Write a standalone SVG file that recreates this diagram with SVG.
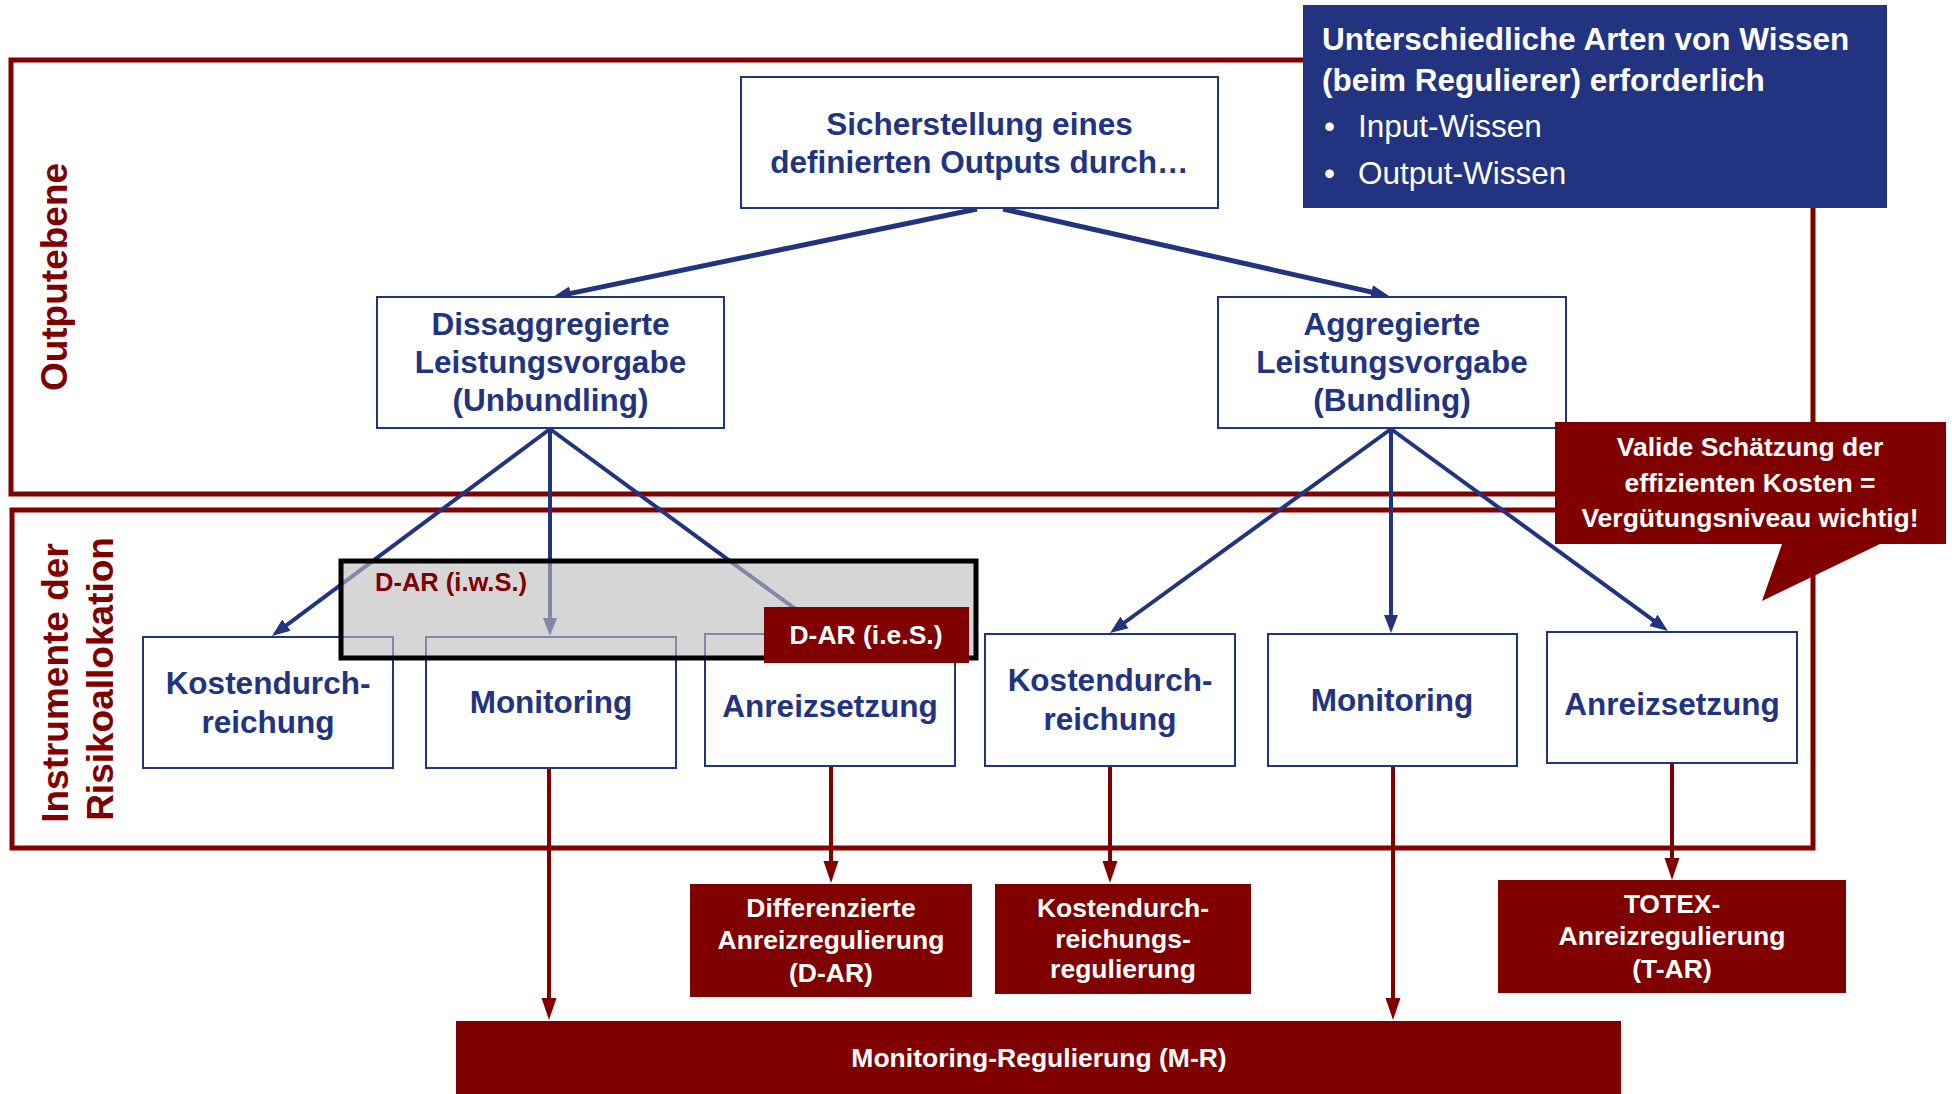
<svg xmlns="http://www.w3.org/2000/svg" width="1952" height="1094" viewBox="0 0 1952 1094">
<style>
  .frame { fill: none; stroke: #800000; stroke-width: 5; }
  .node { fill: #ffffff; stroke: #22347f; stroke-width: 2; }
  .red { fill: #800000; }
  .bt { font-family: "Liberation Sans", Arial, sans-serif; font-weight: bold; font-size: 31.5px; fill: #22347f; text-anchor: middle; }
  .wt { font-family: "Liberation Sans", Arial, sans-serif; font-weight: bold; font-size: 26.5px; fill: #ffffff; text-anchor: middle; }
  .lbl { font-family: "Liberation Sans", Arial, sans-serif; font-weight: bold; font-size: 37px; fill: #800000; text-anchor: middle; }
  .info { font-family: "Liberation Sans", Arial, sans-serif; font-size: 31.5px; fill: #ffffff; }
  .cb { stroke: #22347f; fill: none; }
  .cr { stroke: #800000; stroke-width: 4; fill: none; marker-end: url(#ar); }
</style>
<defs>
  <marker id="ab" markerUnits="userSpaceOnUse" markerWidth="20" markerHeight="18" refX="6" refY="8" orient="auto">
    <path d="M0,1 L18,8 L0,15 z" fill="#22347f"/>
  </marker>
  <marker id="ar" markerUnits="userSpaceOnUse" markerWidth="24" markerHeight="16" refX="8" refY="7.5" orient="auto">
    <path d="M0,0 L22,7.5 L0,15 z" fill="#800000"/>
  </marker>
</defs>

<g id="frames">
  <rect class="frame" x="11" y="60" width="1802" height="434"/>
  <rect class="frame" x="12" y="510" width="1801" height="338"/>
  <text class="lbl" transform="translate(67,277) rotate(-90)">Outputebene</text>
  <text class="lbl" transform="translate(68,683) rotate(-90)">Instrumente der</text>
  <text class="lbl" transform="translate(113,679) rotate(-90)">Risikoallokation</text>
</g>

<g id="connectors">
  <line class="cb" stroke-width="5" x1="977" y1="209" x2="564.7" y2="294.6" marker-end="url(#ab)"/>
  <line class="cb" stroke-width="5" x1="1003" y1="209" x2="1377.3" y2="293.4" marker-end="url(#ab)"/>
  <line class="cb" stroke-width="4" x1="550" y1="429" x2="281.6" y2="628.8" marker-end="url(#ab)"/>
  <line class="cb" stroke-width="4" x1="550" y1="429" x2="550" y2="624" marker-end="url(#ab)"/>
  <line class="cb" stroke-width="4" x1="550" y1="429" x2="820" y2="627" marker-end="url(#ab)"/>
  <line class="cb" stroke-width="4" x1="1391" y1="429" x2="1119.7" y2="626" marker-end="url(#ab)"/>
  <line class="cb" stroke-width="4" x1="1391" y1="429" x2="1391" y2="621" marker-end="url(#ab)"/>
  <line class="cb" stroke-width="4" x1="1391" y1="429" x2="1658.3" y2="623.9" marker-end="url(#ab)"/>
  <line class="cr" x1="549" y1="768" x2="549" y2="1006"/>
  <line class="cr" x1="831" y1="766" x2="831" y2="869"/>
  <line class="cr" x1="1110" y1="766" x2="1110" y2="869"/>
  <line class="cr" x1="1393" y1="766" x2="1393" y2="1006"/>
  <line class="cr" x1="1672" y1="763" x2="1672" y2="866"/>
</g>

<g id="n-top">
  <rect class="node" x="741" y="77" width="477" height="131"/>
  <text class="bt" x="979.5" y="135">Sicherstellung eines</text>
  <text class="bt" x="979.5" y="173">definierten Outputs durch…</text>
</g>

<g id="n-unbundling">
  <rect class="node" x="377" y="297" width="347" height="131"/>
  <text class="bt" x="550.5" y="335">Dissaggregierte</text>
  <text class="bt" x="550.5" y="373">Leistungsvorgabe</text>
  <text class="bt" x="550.5" y="411">(Unbundling)</text>
</g>

<g id="n-bundling">
  <rect class="node" x="1218" y="297" width="348" height="131"/>
  <text class="bt" x="1392" y="335">Aggregierte</text>
  <text class="bt" x="1392" y="373">Leistungsvorgabe</text>
  <text class="bt" x="1392" y="411">(Bundling)</text>
</g>

<g id="n-kosten-l">
  <rect class="node" x="143" y="637" width="250" height="131"/>
  <text class="bt" x="268" y="694">Kostendurch-</text>
  <text class="bt" x="268" y="733">reichung</text>
</g>
<g id="n-monitoring-l">
  <rect class="node" x="426" y="637" width="250" height="131"/>
  <text class="bt" x="551" y="713">Monitoring</text>
</g>
<g id="n-anreiz-l">
  <rect class="node" x="705" y="634" width="250" height="132"/>
  <text class="bt" x="830" y="717">Anreizsetzung</text>
</g>

<g id="n-kosten-r">
  <rect class="node" x="985" y="634" width="250" height="132"/>
  <text class="bt" x="1110" y="691">Kostendurch-</text>
  <text class="bt" x="1110" y="730">reichung</text>
</g>
<g id="n-monitoring-r">
  <rect class="node" x="1268" y="634" width="249" height="132"/>
  <text class="bt" x="1392" y="711">Monitoring</text>
</g>
<g id="n-anreiz-r">
  <rect class="node" x="1547" y="632" width="250" height="131"/>
  <text class="bt" x="1672" y="715">Anreizsetzung</text>
</g>

<g id="n-dar-iws">
  <rect x="341" y="561" width="635" height="97" fill="#bdbdbd" fill-opacity="0.62" stroke="#000000" stroke-width="5"/>
  <text x="375" y="591" font-family="Liberation Sans, Arial, sans-serif" font-weight="bold" font-size="25.5" fill="#800000">D-AR (i.w.S.)</text>
</g>
<g id="n-dar-ies">
  <rect class="red" x="764" y="607" width="205" height="56"/>
  <text class="wt" x="866" y="644" font-size="25.5">D-AR (i.e.S.)</text>
</g>

<g id="n-wissen">
  <rect x="1303" y="5" width="584" height="203" fill="#22347f"/>
  <text class="info" x="1322" y="50" font-weight="bold">Unterschiedliche Arten von Wissen</text>
  <text class="info" x="1322" y="91" font-weight="bold">(beim Regulierer) erforderlich</text>
  <text class="info" x="1324" y="137">•</text>
  <text class="info" x="1358" y="137">Input-Wissen</text>
  <text class="info" x="1324" y="184">•</text>
  <text class="info" x="1358" y="184">Output-Wissen</text>
</g>

<g id="n-valide">
  <path class="red" d="M1555,422 L1946,422 L1946,544 L1880,544 L1762,601 L1782,544 L1555,544 z"/>
  <text class="wt" x="1750" y="456">Valide Schätzung der</text>
  <text class="wt" x="1750" y="492">effizienten Kosten =</text>
  <text class="wt" x="1750" y="527">Vergütungsniveau wichtig!</text>
</g>

<g id="n-dar">
  <rect class="red" x="690" y="884" width="282" height="113"/>
  <text class="wt" x="831" y="917">Differenzierte</text>
  <text class="wt" x="831" y="949">Anreizregulierung</text>
  <text class="wt" x="831" y="982">(D-AR)</text>
</g>
<g id="n-kdr">
  <rect class="red" x="995" y="884" width="256" height="110"/>
  <text class="wt" x="1123" y="917">Kostendurch-</text>
  <text class="wt" x="1123" y="948">reichungs-</text>
  <text class="wt" x="1123" y="978">regulierung</text>
</g>
<g id="n-tar">
  <rect class="red" x="1498" y="880" width="348" height="113"/>
  <text class="wt" x="1672" y="913">TOTEX-</text>
  <text class="wt" x="1672" y="945">Anreizregulierung</text>
  <text class="wt" x="1672" y="978">(T-AR)</text>
</g>
<g id="n-mr">
  <rect class="red" x="456" y="1021" width="1165" height="73"/>
  <text class="wt" x="1039" y="1067">Monitoring-Regulierung (M-R)</text>
</g>
</svg>
